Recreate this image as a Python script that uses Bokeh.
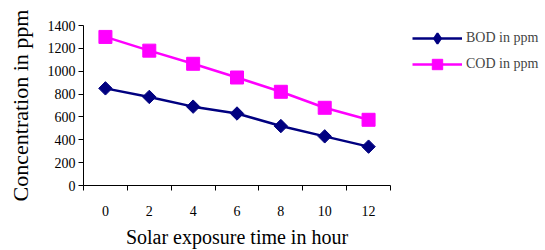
from bokeh.plotting import figure
from bokeh.layouts import row
from bokeh.models import FixedTicker, Legend, LegendItem, Range1d
from bokeh.embed import file_html
from bokeh.resources import INLINE
import math

hours = [0, 2, 4, 6, 8, 10, 12]
bod = [850, 775, 690, 630, 520, 430, 340]
cod = [1300, 1180, 1065, 945, 820, 680, 575]
y_ticks = [0, 200, 400, 600, 800, 1000, 1200, 1400]
x_labels = {h: str(h) for h in hours}
series_names = ["BOD in ppm", "COD in ppm"]

FONT = "Liberation Serif"
NAVY = "#000080"
MAGENTA = "#FF00FF"

p = figure(width=392, height=250, output_backend="svg", toolbar_location=None,
           x_range=Range1d(-1, 13), y_range=Range1d(0, 1400),
           min_border_left=83, min_border_right=2, min_border_top=25, min_border_bottom=60)
p.outline_line_color = None
p.xgrid.visible = False
p.ygrid.visible = False

p.line(hours, bod, line_color=NAVY, line_width=2.5)
p.scatter(hours, bod, marker="square", size=9.5, angle=math.pi / 4,
          fill_color=NAVY, line_color=NAVY)
p.line(hours, cod, line_color=MAGENTA, line_width=2.5)
p.scatter(hours, cod, marker="square", size=13,
          fill_color=MAGENTA, line_color=MAGENTA)

xa = p.xaxis[0]
xa.ticker = FixedTicker(ticks=hours, minor_ticks=[h + 1 for h in [-2] + hours])
xa.major_label_overrides = x_labels
xa.major_tick_line_color = None
xa.major_tick_in = 0
xa.major_tick_out = 0
xa.minor_tick_in = 0
xa.minor_tick_out = 5
xa.minor_tick_line_color = "black"
xa.major_label_standoff = 15
xa.axis_label = "Solar exposure time in hour"
xa.axis_label_standoff = 7

ya = p.yaxis[0]
ya.ticker = FixedTicker(ticks=y_ticks)
ya.minor_tick_line_color = None
ya.major_tick_in = 0
ya.major_tick_out = 5
ya.major_label_standoff = 3
ya.axis_label = "Concentration in ppm"
ya.axis_label_standoff = 12

for ax in (xa, ya):
    ax.axis_line_color = "black"
    ax.major_label_text_font = FONT
    ax.major_label_text_font_size = "14px"
    ax.major_label_text_color = "black"
    ax.axis_label_text_font = FONT
    ax.axis_label_text_font_style = "normal"
    ax.axis_label_text_color = "black"
xa.axis_label_text_font_size = "20px"
ya.axis_label_text_font_size = "22px"

# legend panel (its series lie outside its ranges, only the legend shows)
lf = figure(width=153, height=250, output_backend="svg", toolbar_location=None,
            title_location=None,
            x_range=Range1d(100, 101), y_range=Range1d(0, 1),
            min_border_left=20, min_border_right=0, min_border_top=4, min_border_bottom=0)
lf.xaxis.visible = False
lf.yaxis.visible = False
lf.xgrid.visible = False
lf.ygrid.visible = False
lf.outline_line_color = None
lb_l = lf.line(hours, bod, line_color=NAVY, line_width=2.5)
lb_m = lf.scatter(hours, bod, marker="diamond", size=10, fill_color=NAVY,
                  line_color=NAVY, line_width=2)
lc_l = lf.line(hours, cod, line_color=MAGENTA, line_width=2.5)
lc_m = lf.scatter(hours, cod, marker="square", size=10, fill_color=MAGENTA,
                  line_color=MAGENTA)
legend = Legend(items=[LegendItem(label=series_names[0], renderers=[lb_l, lb_m]),
                       LegendItem(label=series_names[1], renderers=[lc_l, lc_m])],
                location="top_left", glyph_width=50, glyph_height=26, spacing=0,
                padding=0, margin=0, label_standoff=4,
                label_text_font=FONT, label_text_font_size="14px",
                border_line_color=None, background_fill_alpha=0)
lf.add_layout(legend, "center")

layout = row(p, lf)
open("out.html", "w").write(file_html(layout, INLINE))
